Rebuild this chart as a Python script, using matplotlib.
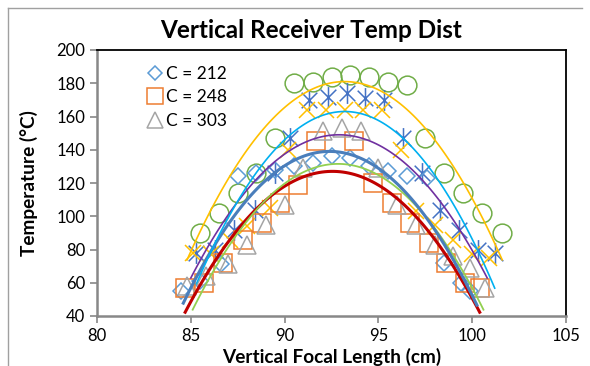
import matplotlib.pyplot as plt
import numpy as np
from matplotlib.path import Path
from matplotlib.lines import Line2D

plt.rcParams['font.family'] = ['Lato', 'DejaVu Sans']

# marker series
x212 = [84.5, 85.5, 86.6, 87.5, 88.5, 89.5, 90.5, 91.5, 92.5, 93.5, 94.5, 95.5, 96.5, 97.6, 98.5, 99.4, 99.9]
y212 = [55, 61, 71, 124, 126, 128, 130, 132, 136, 135, 130, 127, 124, 123, 72, 60, 55]

x248 = [84.7, 85.7, 86.7, 87.8, 88.8, 89.75, 90.7, 91.7, 93.7, 94.7, 95.7, 96.7, 97.7, 98.6, 99.6, 100.4]
y248 = [57, 60, 72, 86, 96, 108, 119, 145, 145, 120, 108, 96, 84, 72, 60, 57]

x303 = [84.8, 85.8, 87.0, 88.0, 89.0, 90.0, 91.0, 92.05, 93.05, 94.05, 95.0, 96.0, 97.0, 98.0, 99.0, 99.9, 100.7]
y303 = [58, 64, 71, 83, 95, 107, 129, 151, 153, 151, 129, 107, 95, 83, 76, 69, 57]

x_yel = [85.1, 86.1, 87.1, 88.0, 89.2, 90.2, 91.2, 92.2, 93.2, 94.2, 95.2, 96.2, 97.0, 98.0, 99.0, 100.0, 100.9]
y_yel = [78, 77, 86, 94, 105, 140, 164, 164, 164, 164, 164, 140, 103, 95, 86, 77, 75]

x_ast = [85.3, 86.3, 87.3, 88.4, 89.5, 90.3, 91.3, 92.3, 93.3, 94.3, 95.3, 96.3, 97.3, 98.3, 99.3, 100.3, 101.2]
y_ast = [78, 80, 92, 104, 126, 147, 170, 172, 174, 171, 170, 147, 126, 104, 92, 80, 78]

x_cir = [85.5, 86.5, 87.5, 88.5, 89.5, 90.5, 91.5, 92.5, 93.5, 94.5, 95.5, 96.5, 97.5, 98.5, 99.5, 100.5, 101.6]
y_cir = [90, 102, 114, 126, 147, 180, 181, 184, 185, 184, 181, 179, 147, 126, 114, 102, 90]

# polynomial trendlines: start x, end x, vertex x, vertex y, curvature
tr_x0 = [84.7, 85.1, 84.6, 85.0, 85.3, 84.8]
tr_x1 = [100.4, 100.6, 100.25, 100.8, 101.2, 101.6]
tr_vx = [92.55, 92.85, 92.4, 92.9, 93.2, 93.2]
tr_vy = [127, 131.5, 139, 149, 163, 181]
tr_k = [1.375, 1.46, 1.5, 1.38, 1.66, 1.52]
tr_col = ['#C00000', '#92D050', '#4A7EBB', '#7030A0', '#00B0F0', '#FFC000']
tr_lw = [2.2, 1.3, 2.2, 1.2, 1.2, 1.2]

fig = plt.figure(figsize=(5.9, 3.66), dpi=100)
ax = fig.add_axes([97/590, 1-316/366, 469/590, 266/366])

# outer chart border (top and left edges visible)
fig.add_artist(Line2D([8/590, 8/590], [0, 1-8/366], color='#A0A0A0', lw=1))
fig.add_artist(Line2D([8/590, 582/590], [1-8/366, 1-8/366], color='#A0A0A0', lw=1))

star = Path([(0, -1), (0, 1), (-0.75, -0.75), (0.75, 0.75), (-0.75, 0.75), (0.75, -0.75)],
            [Path.MOVETO, Path.LINETO, Path.MOVETO, Path.LINETO, Path.MOVETO, Path.LINETO])

ax.plot(x_cir, y_cir, ls='none', marker='o', ms=13.5, mfc='none', mec='#70AD47', mew=1.1)
ax.plot(x_ast, y_ast, ls='none', marker=star, ms=15, mfc='none', mec='#4472C4', mew=1.1)
ax.plot(x_yel, y_yel, ls='none', marker='x', ms=11, mec='#FFC000', mew=1.1)
l1, = ax.plot(x212, y212, ls='none', marker='D', ms=8, mfc='none', mec='#5B9BD5', mew=1.1, label='C = 212')
l2, = ax.plot(x248, y248, ls='none', marker='s', ms=13, mfc='none', mec='#ED7D31', mew=1.1, label='C = 248')
l3, = ax.plot(x303, y303, ls='none', marker='^', ms=13, mfc='none', mec='#A5A5A5', mew=1.1, label='C = 303')

for i in range(6):
    xs = np.linspace(tr_x0[i], tr_x1[i], 100)
    ys = tr_vy[i] - tr_k[i]*(xs - tr_vx[i])**2
    ax.plot(xs, ys, color=tr_col[i], lw=tr_lw[i])

ax.set_xlim(80, 105)
ax.set_ylim(40, 200)
ax.set_xticks(range(80, 106, 5))
ax.set_yticks(range(40, 201, 20))
ax.tick_params(labelsize=12, color='#888888', length=5, width=1.2)
for s in ['left', 'bottom']:
    ax.spines[s].set_color('#888888')
    ax.spines[s].set_linewidth(1.8)
for s in ['top', 'right']:
    ax.spines[s].set_color('black')
    ax.spines[s].set_linewidth(1.3)

fig.text(311/590, 1-30/366, 'Vertical Receiver Temp Dist', fontsize=17.5, fontweight='bold',
         ha='center', va='center')
ax.set_xlabel('Vertical Focal Length (cm)', fontsize=13.7, fontweight='bold')
ax.xaxis.set_label_coords(0.5, -0.12)
ax.set_ylabel('Temperature (°C)', fontsize=13.7, fontweight='bold')
ax.yaxis.set_label_coords(-0.125, 0.5)

ax.legend(handles=[l1, l2, l3], loc='upper left', bbox_to_anchor=(0.08, 1.0), frameon=False,
          fontsize=12.5, markerscale=0.85, handlelength=0.6, handletextpad=0.3, labelspacing=0.45)

fig.savefig('out.png', dpi=100)
